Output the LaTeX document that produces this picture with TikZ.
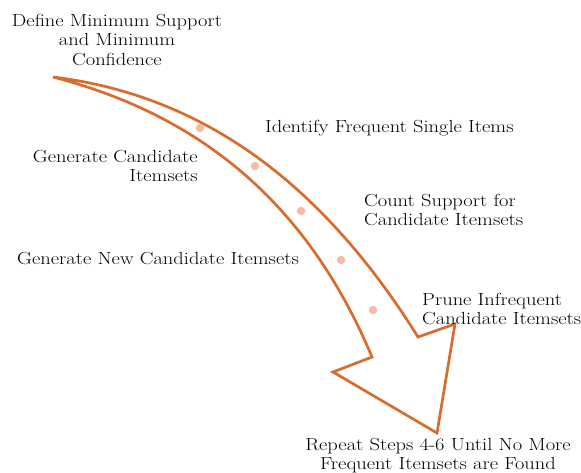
\documentclass[tikz,border=0pt]{standalone}
\usepackage{fontspec}
\setmainfont{Latin Modern Roman}[FakeStretch=1.17]
\begin{document}
\begin{tikzpicture}[x=1pt,y=-1pt,
  lbl/.style={inner sep=0pt, font=\fontsize{17.5}{19.5}\selectfont},
  dotm/.style={circle, fill=dotc, inner sep=0pt, minimum size=8.5pt},
  arr/.style={draw=arrc, line width=2.7pt, line join=miter}]
\definecolor{arrc}{HTML}{D96C2C}
\definecolor{dotc}{HTML}{F4BBA5}
\useasboundingbox (0,0) rectangle (581,472);
\draw[arr] (53,77) .. controls (200,95) and (320,180) .. (418,337)
  -- (455,324) -- (437,433) -- (333,372) -- (372,357)
  .. controls (300,185) and (180,110) .. (53,77) -- cycle;
\node[dotm] (d1) at (200,128) {};
\node[dotm] (d2) at (255,166) {};
\node[dotm] (d3) at (301,211) {};
\node[dotm] (d4) at (341,260) {};
\node[dotm] (d5) at (373,310) {};
\node[lbl, align=center, anchor=north] (t1) at (117,14) {Define Minimum Support\\and Minimum\\Confidence};
\node[lbl, anchor=west] (t2) at (265,128) {Identify Frequent Single Items};
\node[lbl, align=right, anchor=north east] (t3) at (198,150) {Generate Candidate\\Itemsets};
\node[lbl, align=left, anchor=north west] (t4) at (364,194) {Count Support for\\Candidate Itemsets};
\node[lbl, anchor=west] (t5) at (17,259) {Generate New Candidate Itemsets};
\node[lbl, align=left, anchor=north west] (t6) at (422,293) {Prune Infrequent\\Candidate Itemsets};
\node[lbl, align=center, anchor=north] (t7) at (438,438) {Repeat Steps 4-6 Until No More\\Frequent Itemsets are Found};
\end{tikzpicture}
\end{document}
